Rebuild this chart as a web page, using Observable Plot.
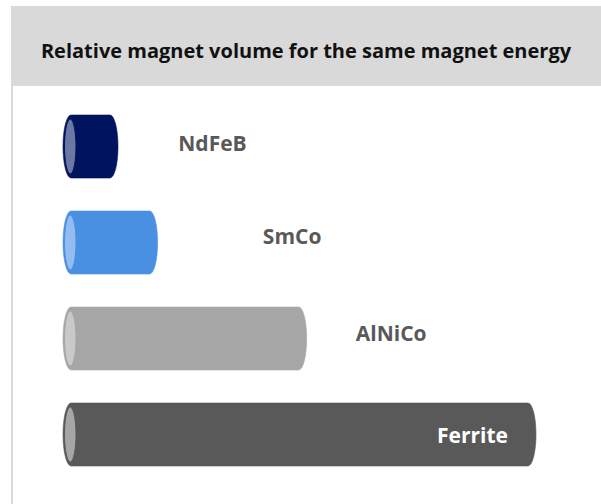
<!DOCTYPE html>
<html>
<head>
<meta charset="utf-8">
<script src="https://cdn.jsdelivr.net/npm/d3@7"></script>
<script src="https://cdn.jsdelivr.net/npm/@observablehq/plot@0.6"></script>
<style>
  html, body { margin: 0; padding: 0; background: #fff; }
  #frame { position: absolute; left: 11px; top: 6px; width: 590px; height: 498px; border-left: 2px solid #d9d9d9; box-sizing: border-box; }
  #header { position: absolute; left: 11px; top: 6px; width: 590px; height: 80px; background: #d9d9d9;
            display: flex; align-items: center; justify-content: center; box-sizing: border-box; padding-top: 8px;
            font-family: "Open Sans", sans-serif; font-weight: 700; font-size: 20px; color: #111; }
  #chart { position: absolute; left: 0; top: 86px; }
</style>
</head>
<body>
<div id="frame"></div>
<div id="header">Relative magnet volume for the same magnet energy</div>
<div id="chart"></div>
<script>
const magnets = ["NdFeB", "SmCo", "AlNiCo", "Ferrite"];
const volumes = [1, 1.72, 4.43, 8.6];
const bodyColors = ["#00135e", "#4a90e2", "#a6a6a6", "#595959"];
const capColors = ["#6b78a4", "#93bdf0", "#c9c9c9", "#a6a6a6"];
const labelColors = ["#595959", "#595959", "#595959", "#ffffff"];

const data = magnets.map((m, i) => ({magnet: m, volume: volumes[i], body: bodyColors[i], cap: capColors[i], label: labelColors[i]}));

// label placement relative to bar end (px), layout only
const labelDx = [94, 134, 84, -64];
const labelDy = [-3, -6, -5, 1];

const textMarks = data.map((d, i) => Plot.text([d], {
  x: "volume", y: "magnet", text: "magnet", dx: labelDx[i], dy: labelDy[i],
  fill: d.label, fontSize: 21, fontWeight: 700, fontFamily: "Open Sans"
}));

const chart = Plot.plot({
  width: 601,
  height: 418,
  marginLeft: 0, marginRight: 0, marginTop: 0, marginBottom: 0,
  x: {domain: [0, 9.6], range: [63, 591], axis: null},
  y: {type: "band", domain: magnets, range: [29, 380], paddingInner: 0.344, paddingOuter: 0, axis: null},
  marks: [
    Plot.barX(data, {x1: 0, x2: "volume", y: "magnet", fill: "body", stroke: "body", strokeOpacity: 0.6, rx: 8, ry: 40}),
    Plot.barX(data, {x1: 0, x2: 0, y: "magnet", fill: "cap", stroke: "body", strokeWidth: 1,
      insetLeft: 1.5, insetRight: -13, insetTop: 4, insetBottom: 4, rx: 100, ry: 100}),
    ...textMarks
  ]
});
document.getElementById("chart").appendChild(chart);
</script>
</body>
</html>
